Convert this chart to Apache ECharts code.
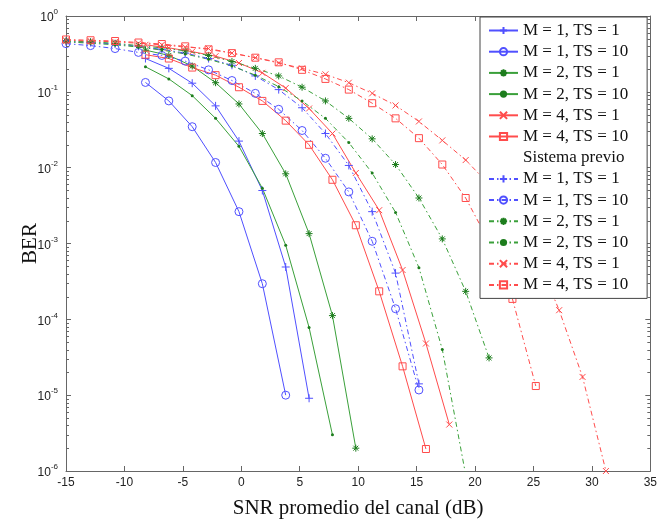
<!DOCTYPE html>
<html><head><meta charset="utf-8">
<script src="https://cdn.jsdelivr.net/npm/echarts@6/dist/echarts.min.js"></script>
<style>html,body{margin:0;padding:0;background:#fff}#c{width:660px;height:524px}</style>
</head><body><div id="c"></div>
<script>
// SNR (dB) sample positions
const snrNew  = [-8.2,-6.2,-4.2,-2.2,-0.2,1.8,3.8,5.8,7.8,9.8,11.8,13.8,15.8,17.8];
const snrPrev = [-15,-12.9,-10.8,-8.8,-6.8,-4.8,-2.8,-0.8,1.2,3.2,5.2,7.2,9.2,11.2,13.2,15.2,17.2,19.2,21.2,23.2,25.2,27.2,29.2,31.2];

// BER, proposed system (solid)
const berM1TS1  = [0.275,0.204,0.130,0.0653,0.0224,0.0050,4.9e-4,9.1e-6];
const berM1TS10 = [0.133,0.0759,0.0347,0.0117,0.00263,2.95e-4,1.0e-5];
const berM2TS1  = [0.355,0.302,0.219,0.132,0.0692,0.0282,0.0083,0.00135,1.12e-4,2.0e-6];
const berM2TS10 = [0.214,0.148,0.0891,0.0447,0.0191,0.00537,9.5e-4,7.8e-5,3.0e-6];
const berM4TS1  = [0.417,0.380,0.339,0.295,0.240,0.178,0.112,0.0603,0.0282,0.0085,0.00275,4.47e-4,4.8e-5,4.1e-6];
const berM4TS10 = [0.309,0.275,0.209,0.166,0.115,0.0759,0.0417,0.0200,0.00692,0.00174,2.34e-4,2.4e-5,1.95e-6];

// BER, previous system (dash-dot)
const prevM1TS1  = [0.457,0.447,0.427,0.398,0.363,0.324,0.275,0.224,0.162,0.107,0.0617,0.0282,0.0107,0.00263,4.07e-4,1.41e-5];
const prevM1TS10 = [0.432,0.407,0.372,0.331,0.302,0.254,0.195,0.141,0.0955,0.0589,0.0309,0.0133,0.00479,0.00107,1.38e-4,1.17e-5];
const prevM2TS1  = [0.468,0.457,0.437,0.407,0.380,0.347,0.302,0.251,0.204,0.162,0.115,0.0759,0.0447,0.0240,0.0110,0.00398,0.00115,2.34e-4,3.1e-5];
const prevM2TS10 = [0.457,0.437,0.417,0.389,0.355,0.316,0.269,0.219,0.166,0.117,0.0759,0.0447,0.0214,0.0085,0.00257,4.8e-4,4.0e-5,8.9e-7];
const prevM4TS1  = [0.479,0.468,0.457,0.437,0.417,0.389,0.372,0.324,0.282,0.240,0.204,0.170,0.132,0.0955,0.0661,0.0407,0.0229,0.0126,0.00603,0.0024,7.1e-4,1.32e-4,1.74e-5,1.0e-6];
const prevM4TS10 = [0.490,0.479,0.468,0.447,0.427,0.398,0.363,0.324,0.282,0.245,0.195,0.148,0.107,0.0708,0.0447,0.0245,0.0110,0.00398,0.00105,1.86e-4,1.32e-5];

const seriesNames = ['M = 1, TS = 1','M = 1, TS = 10','M = 2, TS = 1','M = 2, TS = 10','M = 4, TS = 1','M = 4, TS = 10'];
const prevLabel = 'Sistema previo';
const xTicks = {min:-15, max:35, step:5};
const yExpMin = -6, yExpMax = 0;

const BLUE='#5050ff', GREEN='#3aa03a', GREEN_M='#1d7d1d', RED='#ff4c4c';
const SYM = {
  plus:'path://M5,0L5,10M0,5L10,5',
  cross:'path://M0,0L10,10M10,0L0,10',
  star:'path://M5,0L5,10M0,5L10,5M1.5,1.5L8.5,8.5M8.5,1.5L1.5,8.5'
};
const styles = [
  {c:BLUE, mc:BLUE, sym:SYM.plus, size:8, open:true},
  {c:BLUE, mc:BLUE, sym:'circle', size:8, hollow:true},
  {c:GREEN, mc:GREEN_M, sym:SYM.star, size:7, open:true},
  {c:GREEN, mc:GREEN_M, sym:'circle', size:3},
  {c:RED, mc:RED, sym:SYM.cross, size:6, open:true},
  {c:RED, mc:RED, sym:'rect', size:7, hollow:true}
];
const newData = [berM1TS1,berM1TS10,berM2TS1,berM2TS10,berM4TS1,berM4TS10];
const prevData = [prevM1TS1,prevM1TS10,prevM2TS1,prevM2TS10,prevM4TS1,prevM4TS10];
const DASH=[5,3,1.5,3];

function mk(name, xs, ys, st, dashed){
  const itemStyle = st.hollow ? {color:'rgba(255,255,255,0)', borderColor:st.mc, borderWidth:1}
                  : st.open ? {color:st.mc, borderColor:st.mc, borderWidth:1}
                  : {color:st.mc, borderColor:st.mc, borderWidth:0};
  return {
    name, type:'line', data: ys.map((v,i)=>[xs[i], v]),
    symbol: st.sym, symbolSize: st.size, showSymbol:true,
    lineStyle:{color:st.c, width:1, type: dashed?DASH:'solid'},
    itemStyle, emphasis:{disabled:true}, animation:false, z:3
  };
}
const series=[];
newData.forEach((d,i)=>series.push(mk(seriesNames[i], snrNew, d, styles[i], false)));
series.push({name:prevLabel, type:'line', data:[], symbol:'none', lineStyle:{opacity:0}, itemStyle:{opacity:0}});
prevData.forEach((d,i)=>series.push(mk(seriesNames[i]+' ', snrPrev, d, styles[i], true)));

// log minor ticks (2..9 per decade) on left and right frame
const minorVals=[];
for(let e=yExpMin;e<yExpMax;e++){ for(let m=2;m<=9;m++){ minorVals.push([xTicks.min, m*Math.pow(10,e)]); } }
series.push({
  type:'custom', silent:true, animation:false, z:5, data:minorVals, clip:false,
  renderItem:(params, api)=>{
    const p1 = api.coord([xTicks.min, api.value(1)]);
    const p2 = api.coord([xTicks.max, api.value(1)]);
    const st = {stroke:'#666', lineWidth:1};
    return {type:'group', children:[
      {type:'line', shape:{x1:p1[0], y1:Math.round(p1[1])+0.5, x2:p1[0]+3, y2:Math.round(p1[1])+0.5}, style:st},
      {type:'line', shape:{x1:p2[0]-3, y1:Math.round(p2[1])+0.5, x2:p2[0], y2:Math.round(p2[1])+0.5}, style:st}
    ]};
  }
});

const legendData = [];
seriesNames.forEach(n=>legendData.push({name:n}));
legendData.push({name:prevLabel, icon:'rect', itemStyle:{opacity:0}, lineStyle:{opacity:0}});
seriesNames.forEach(n=>legendData.push({name:n+' '}));

const axisLineStyle = {color:'#666', width:1};
const option = {
  backgroundColor:'#fff',
  animation:false,
  grid:{left:66, right:7, top:16, bottom:47, containLabel:false},
  legend:{
    data:legendData, orient:'vertical', left:480, top:17,
    backgroundColor:'#fff', borderColor:'#444', borderWidth:1, borderRadius:0,
    padding:[5,19,5,8], itemGap:4.2, itemWidth:29, itemHeight:9,
    selectedMode:false,
    formatter:n=>n.trim(),
    textStyle:{fontFamily:'Liberation Serif', fontSize:17, color:'#111', lineHeight:17}
  },
  xAxis:[{
    type:'value', min:xTicks.min, max:xTicks.max, interval:xTicks.step,
    axisLine:{show:true, onZero:false, lineStyle:axisLineStyle}, axisTick:{inside:true, length:5, lineStyle:axisLineStyle},
    splitLine:{show:false},
    axisLabel:{color:'#222', fontFamily:'Liberation Sans', fontSize:12, margin:6},
    name:'SNR promedio del canal (dB)', nameLocation:'middle', nameGap:27, nameMoveOverlap:false,
    nameTextStyle:{fontFamily:'Liberation Serif', fontSize:21, color:'#111'}
  },{
    type:'value', position:'top', min:xTicks.min, max:xTicks.max, interval:xTicks.step,
    axisLine:{show:true, onZero:false, lineStyle:axisLineStyle}, axisTick:{inside:true, length:5, lineStyle:axisLineStyle},
    axisLabel:{show:false}, splitLine:{show:false}
  }],
  yAxis:[{
    type:'log', logBase:10, min:Math.pow(10,yExpMin), max:Math.pow(10,yExpMax),
    axisLine:{show:true, onZero:false, lineStyle:axisLineStyle}, axisTick:{inside:true, length:5, lineStyle:axisLineStyle},
    splitLine:{show:false},
    axisLabel:{margin:8, formatter:v=>'{a|10}{b|'+Math.round(Math.log10(v))+'}',
      rich:{a:{fontFamily:'Liberation Sans', fontSize:12, color:'#222', verticalAlign:'bottom', lineHeight:16},
            b:{fontFamily:'Liberation Sans', fontSize:8, color:'#222', verticalAlign:'top', lineHeight:16}}},
    name:'BER', nameLocation:'middle', nameGap:25, nameMoveOverlap:false,
    nameTextStyle:{fontFamily:'Liberation Serif', fontSize:21, color:'#111'}
  },{
    type:'log', logBase:10, position:'right', min:Math.pow(10,yExpMin), max:Math.pow(10,yExpMax),
    axisLine:{show:true, onZero:false, lineStyle:axisLineStyle}, axisTick:{inside:true, length:5, lineStyle:axisLineStyle},
    axisLabel:{show:false}, splitLine:{show:false}
  }],
  series
};
const chart = echarts.init(document.getElementById('c'), null, {renderer:'canvas'});
chart.setOption(option);
</script></body></html>
